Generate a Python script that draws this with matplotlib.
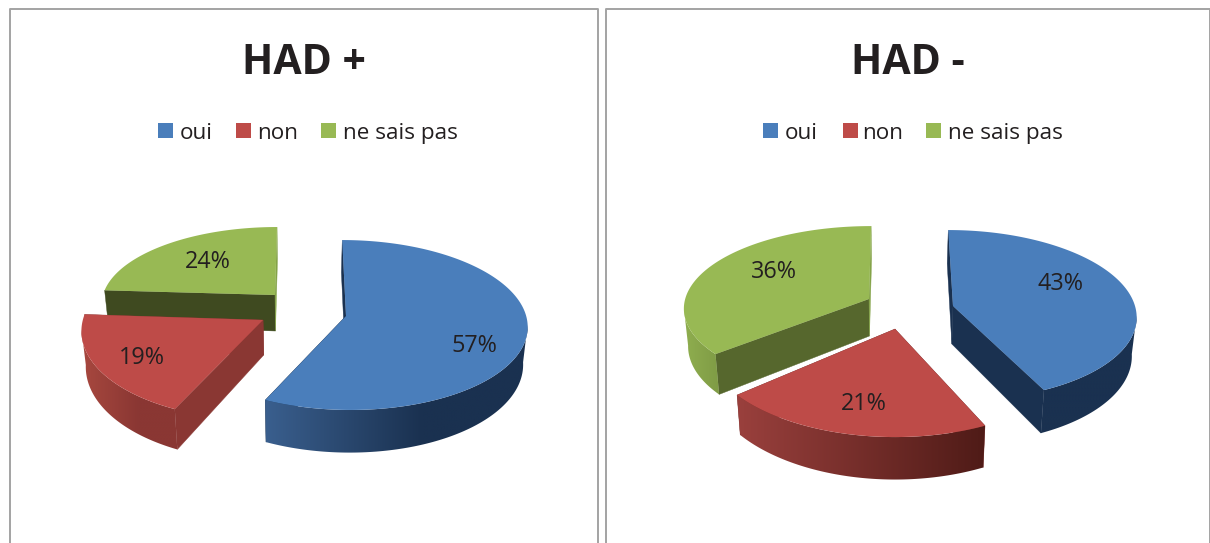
import numpy as np
import matplotlib
matplotlib.use("Agg")
import matplotlib.pyplot as plt
from matplotlib.colors import to_rgb
from matplotlib.patches import Polygon, Rectangle

categories = ["oui", "non", "ne sais pas"]
titles = ["HAD +", "HAD -"]
values_plus = [57, 19, 24]
values_minus = [43, 21, 36]

TOP_COLORS = ["#4A7EBB", "#BE4B48", "#98B954"]
TEXT = "#231F20"
RX, RY, K = 182.0, 84.0, 0.106  # ellipse + perspective
TILT = 0.09
SHRINK = 0.98
SLOPE = 0.06

# layout, per slice: apex x, apex y, sx, sy, depth, side colour left/right,
# fraction of width where the gradient stops, faces (start, end), label pos
layout_plus = {
    "vx": 300,
    "order": [2, 1, 0],
    "slices": [
        dict(ax=346, ay=316, sx=0.99, sy=1.0, d=37, side=("#3A5F8E", "#1A3150"), stop=0.6,
             faces=("#1A3150", "#16304F"), label=(474, 346)),
        dict(ax=263, ay=320, sx=0.99, sy=1.06, d=35, side=("#A8483F", "#8A3733"), stop=0.6,
             faces=("#8A3733", "#8A3733"), label=(142, 358)),
        dict(ax=275, ay=295, sx=0.945, sy=0.895, d=36, side=("#3F4A20", "#3F4A20"), stop=1.0,
             faces=("#3F4A20", "#84A348"), label=(208, 262)),
    ],
}
layout_minus = {
    "vx": 895,
    "order": [2, 1, 0],
    "slices": [
        dict(ax=953, ay=306, sx=1.0, sy=1.0, d=38, side=("#1A3150", "#1A3150"), stop=1.0,
             faces=("#1A3150", "#1A3150"), label=(1060, 284)),
        dict(ax=895, ay=329, sx=1.05, sy=1.15, d=36, side=("#9A403D", "#4F1B17"), stop=1.0,
             faces=("#7A2E2B", "#7A2E2B"), label=(864, 404)),
        dict(ax=869, ay=299, sx=1.01, sy=0.96, d=37, side=("#8FAE4F", "#7F9B45"), stop=1.0,
             faces=("#56672D", "#84A348"), label=(774, 272)),
    ],
}
panels = [
    dict(x0=9.5, x1=597.5, title_x=304, legend=[158, 236, 321], text=[180, 257, 343]),
    dict(x0=605.5, x1=1209.5, title_x=908, legend=[763, 843, 926], text=[785, 862, 948]),
]


def project(s, vx, theta):
    den = 1 + K * np.cos(theta)
    tilt = TILT * (s["ax"] - vx)
    x = s["ax"] + (RX * s["sx"] * np.sin(theta) - tilt * np.cos(theta)) / den
    y = s["ay"] - RY * s["sy"] * np.cos(theta) / den
    return x, y


def drop(s, vx, x, y):
    # point below the top face, slightly pulled to the pie's axis
    return vx + (x - vx) * SHRINK, y + s["d"] + SLOPE * (y - s["ay"])


def draw_slice(ax, s, vx, start, end, color):
    thetas = np.linspace(start, end, 200)
    xs, ys = project(s, vx, thetas)
    bx, by = drop(s, vx, xs, ys)
    apex_bx, apex_by = drop(s, vx, s["ax"], s["ay"])

    # cut faces
    for i, col in zip([0, -1], s["faces"]):
        ax.fill([s["ax"], xs[i], bx[i], apex_bx], [s["ay"], ys[i], by[i], apex_by],
                color=col, lw=0.3, zorder=2)

    # front rim: horizontal gradient clipped to the rim shape
    # stops at the widest point, further back the curves cross each other
    front = np.cos(thetas) < -0.1
    if front.sum() > 1:
        fx, fy, gx, gy = xs[front], ys[front], bx[front], by[front]
        left, right = min(fx.min(), gx.min()), max(fx.max(), gx.max())
        c0, c1 = np.array(to_rgb(s["side"][0])), np.array(to_rgb(s["side"][1]))
        f = np.clip(np.linspace(0, 1, 256) / s["stop"], 0, 1)
        grad = (c0 + (c1 - c0) * f[:, None])[None, :, :]
        im = ax.imshow(grad, extent=[left, right, gy.max() + 1, fy.min() - 1], aspect="auto",
                       interpolation="bilinear", zorder=2)
        rim = Polygon(np.c_[np.r_[fx, gx[::-1]], np.r_[fy, gy[::-1]]], closed=True,
                      transform=ax.transData, fill=False, lw=0)
        ax.add_patch(rim)
        im.set_clip_path(rim)

    # top
    ax.fill(np.r_[s["ax"], xs], np.r_[s["ay"], ys], color=color, lw=0, zorder=2)


def draw_pie(ax, values, lay):
    total = sum(values)
    edges = np.cumsum([0] + list(values)) / total * 2 * np.pi
    for i in lay["order"]:
        draw_slice(ax, lay["slices"][i], lay["vx"], edges[i], edges[i + 1], TOP_COLORS[i])
    for i, v in enumerate(values):
        lx, ly = lay["slices"][i]["label"]
        ax.text(lx, ly, f"{v}%", fontsize=16.8, color=TEXT, ha="center", va="center", zorder=5)


plt.rcParams["font.family"] = ["Open Sans", "DejaVu Sans"]
fig = plt.figure(figsize=(12.1, 5.43), dpi=100)
ax = fig.add_axes([0, 0, 1, 1])
ax.axis("off")

for p, title in zip(panels, titles):
    ax.plot([p["x0"], p["x0"], p["x1"], p["x1"]], [543, 8.5, 8.5, 543], color="#A3A3A3", lw=1.4, zorder=1)
    ax.text(p["title_x"], 74.5, title, fontsize=29.5, fontweight="bold", color=TEXT,
            ha="center", va="baseline", zorder=5)
    for lx, tx, name, col in zip(p["legend"], p["text"], categories, TOP_COLORS):
        ax.add_patch(Rectangle((lx, 123), 15, 15, color=col, lw=0, zorder=3))
        ax.text(tx, 139, name, fontsize=16.2, color=TEXT, ha="left", va="baseline", zorder=5)

draw_pie(ax, values_plus, layout_plus)
draw_pie(ax, values_minus, layout_minus)

ax.set_xlim(0, 1210)
ax.set_ylim(543, 0)
fig.savefig("out.png", dpi=100)
